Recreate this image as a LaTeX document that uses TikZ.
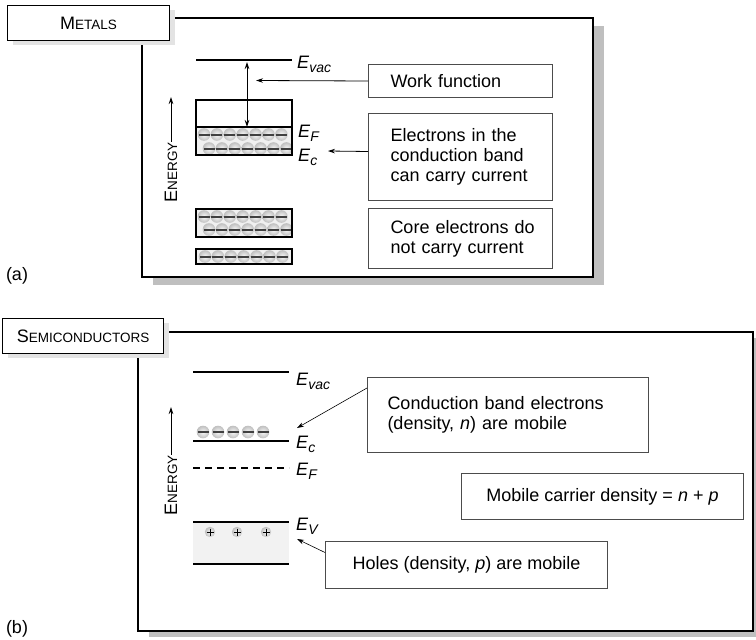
\documentclass[tikz,border=0pt]{standalone}
\usepackage{fontspec}
\setmainfont{Liberation Sans}
\usetikzlibrary{arrows.meta}
\newcommand{\FakeSc}[2]{{\fontsize{18}{20}\selectfont #1}{\fontsize{13.5}{20}\selectfont #2}}
\newcommand{\Elab}[1]{\textit{E}\raisebox{-4.5pt}{\fontsize{14}{14}\selectfont\textit{#1}}}
\begin{document}
\begin{tikzpicture}[x=1pt,y=-1pt,
  every node/.style={font=\fontsize{18}{20}\selectfont},
  frameline/.style={line width=1.5pt,draw=black,fill=white},
  frameshadow/.style={fill=gray!50,draw=none},
  titlebox/.style={draw=black,line width=1.2pt,fill=white,minimum width=162pt,minimum height=35pt,inner sep=0pt,anchor=north west},
  titleshadow/.style={fill=gray!22,draw=none},
  infobox/.style={draw=gray!60!black,line width=1pt,fill=white,anchor=north west,inner ysep=0pt},
  level/.style={line width=2.5pt},
  arr/.style={-{Stealth[length=7pt,width=4.5pt]},line width=0.8pt},
  arrboth/.style={{Stealth[length=7pt,width=4.5pt]}-{Stealth[length=7pt,width=4.5pt]},line width=0.8pt},
  elabel/.style={anchor=base west,inner sep=0pt},
  energy/.style={rotate=90,inner sep=0pt},
  bandfill/.style={fill=gray!12},
  electron/.pic={\shade[inner color=gray!5,outer color=gray!50] (0,0) circle (6.3);
                 \draw[line width=2pt,black!75] (-5.5,0)--(5.5,0);},
  hole/.pic={\shade[inner color=gray!5,outer color=gray!50] (0,0) circle (5.2);
             \draw[line width=0.9pt] (-3.5,0)--(3.5,0) (0,-3.5)--(0,3.5);}
]
\useasboundingbox (0,0) rectangle (756,640);

% ================= (a) METALS =================
\fill[frameshadow] (153,26) rectangle (604,285);
\draw[frameline] (142,18) rectangle (593,277);
\fill[titleshadow] (13,10) rectangle (175,45);
\node[titlebox] (ta) at (7,5) {\FakeSc{M}{ETALS}};
\node (la) at (17,276) {(a)};

% vacuum level
\coordinate (evacL) at (196,60);
\coordinate (evacR) at (292,60);
\draw[level] (evacL) -- (evacR);

% conduction band
\fill[bandfill] (196,127) rectangle (292,155);
\begin{scope}
  \clip (196,127) rectangle (292,155);
  \foreach \i in {0,...,6} {
    \pic at ({204+12.9*\i},134.5) {electron};
    \pic at ({209+12.9*\i},148.5) {electron};
  }
\end{scope}
\draw[line width=1.5pt] (196,100) rectangle (292,155);
\draw[line width=1.5pt] (196,127) -- (292,127);

% core band 1
\fill[bandfill] (196,209) rectangle (292,237);
\begin{scope}
  \clip (196,209) rectangle (292,237);
  \foreach \i in {0,...,6} {
    \pic at ({204+12.9*\i},216.5) {electron};
    \pic at ({209+12.9*\i},229.5) {electron};
  }
\end{scope}
\draw[line width=1.5pt] (196,209) rectangle (292,237);

% core band 2
\fill[bandfill] (196,249) rectangle (292,264);
\begin{scope}
  \clip (196,249) rectangle (292,264);
  \foreach \i in {0,...,6} {
    \pic at ({205+12.9*\i},256.5) {electron};
  }
\end{scope}
\draw[line width=1.5pt] (196,249) rectangle (292,264);

% level labels
\node[elabel] (lvaca) at (297,68) {\Elab{vac}};
\node[elabel] (lfa) at (298,137) {\Elab{F}};
\node[elabel] (lca) at (298,161) {\Elab{c}};

% work function arrow
\coordinate (wfa) at (247,62);
\coordinate (wfb) at (247,127);
\draw[arrboth] (wfa) -- (wfb);

% energy axis
\node[energy] (ena) at (171,172) {\FakeSc{E}{NERGY}};
\coordinate (enatip) at (171,97);
\draw[arr] (ena.east) -- (enatip);

% info boxes
\node[infobox,minimum width=184pt,minimum height=33pt,text width=140pt,inner xsep=22pt,align=left] (wf) at (368,64) {\mbox{Work function}};
\node[infobox,minimum width=184pt,minimum height=87pt,text width=140pt,inner xsep=22pt,align=left] (el) at (368,113) {\mbox{Electrons in the}\\\mbox{conduction band}\\\mbox{can carry current}};
\node[infobox,minimum width=184pt,minimum height=60pt,text width=140pt,inner xsep=22pt,align=left] (core) at (368,208) {\mbox{Core electrons do}\\\mbox{not carry current}};

\coordinate (wft) at (256,80.5);
\draw[arr] (wf.west) -- (wft);
\coordinate (elt) at (328,151);
\draw[arr] ([yshift=5.5pt]el.west) -- (elt);

% ================= (b) SEMICONDUCTORS =================
\fill[frameshadow] (149,338) rectangle (756,637);
\draw[frameline] (138,332) rectangle (753,631);
\fill[titleshadow] (8,323) rectangle (169,358);
\node[titlebox,minimum width=161pt] (tb) at (2,318) {\FakeSc{S}{EMICONDUCTORS}};
\node (lb) at (17,629) {(b)};

% levels
\draw[level] (193,372) -- (289,372);
\foreach \i in {0,...,4} { \pic at ({203+15*\i},432) {electron}; }
\draw[level] (193,441) -- (289,441);
\draw[line width=1.5pt,dash pattern=on 7pt off 5pt] (193,468) -- (289,468);
\fill[gray!10] (193,522) rectangle (289,564);
\draw[level] (193,522) -- (289,522);
\draw[level] (193,564) -- (289,564);
\pic at (210,532) {hole};
\pic at (237,532) {hole};
\pic at (266,532) {hole};

% labels
\node[elabel] (lvacb) at (296,385) {\Elab{vac}};
\node[elabel] (lcb) at (296,448) {\Elab{c}};
\node[elabel] (lfb) at (296,475) {\Elab{F}};
\node[elabel] (lvb) at (296,530) {\Elab{V}};

% energy axis
\node[energy] (enb) at (171,485) {\FakeSc{E}{NERGY}};
\coordinate (enbtip) at (171,407);
\draw[arr] (enb.east) -- (enbtip);

% boxes
\node[infobox,minimum width=281pt,minimum height=75pt,text width=241pt,inner xsep=20pt,align=left] (cb) at (367,377) {\mbox{Conduction band electrons}\\\mbox{(density, \textit{n}) are mobile}};
\node[infobox,minimum width=282pt,minimum height=46pt,inner xsep=0pt,align=center] (mc) at (461,473) {Mobile carrier density = \textit{n} + \textit{p}};
\node[infobox,minimum width=282pt,minimum height=47pt,inner xsep=0pt,align=center] (ho) at (325,541) {Holes (density, \textit{p}) are mobile};

\coordinate (cbt) at (297,428);
\draw[arr,line width=0.6pt] ([yshift=-11pt]cb.north west) -- (cbt);
\coordinate (hot) at (297,539);
\draw[arr,line width=0.6pt] ([yshift=12.5pt]ho.west) -- (hot);
\end{tikzpicture}
\end{document}
